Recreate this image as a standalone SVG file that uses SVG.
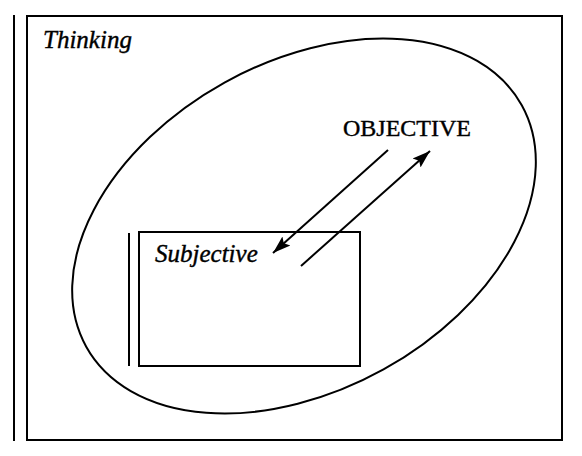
<svg xmlns="http://www.w3.org/2000/svg" width="582" height="456" viewBox="0 0 582 456">
  <style>
    .ln { fill: none; stroke: #000; stroke-width: 2; }
    .lbl { font-family: "Liberation Serif", "Times New Roman", serif; fill: #000; stroke: #000; stroke-width: 0.4; }
    .it { font-style: italic; }
  </style>
  <defs>
    <marker id="ah" markerUnits="userSpaceOnUse" markerWidth="20" markerHeight="14" refX="18" refY="7" orient="auto">
      <path d="M0,1 L18,7 L0,13 L3.5,7 Z" fill="#000"/>
    </marker>
  </defs>
  <rect width="582" height="456" fill="#fff"/>
  <g id="thinking">
    <line class="ln" x1="14" y1="15" x2="14" y2="441"/>
    <rect class="ln" x="27" y="16" width="535" height="424"/>
    <text class="lbl it" x="43" y="48" font-size="25">Thinking</text>
  </g>
  <g id="objective">
    <ellipse class="ln" cx="304" cy="226" rx="249" ry="164" transform="rotate(-29 304 226)"/>
    <text class="lbl" x="343" y="136" font-size="24">OBJECTIVE</text>
  </g>
  <g id="subjective">
    <line class="ln" x1="129" y1="233" x2="129" y2="366"/>
    <rect class="ln" x="139" y="232" width="221" height="134"/>
    <text class="lbl it" x="155" y="262" font-size="25">Subjective</text>
  </g>
  <g id="connectors">
    <line class="ln" x1="388" y1="150" x2="273" y2="253" marker-end="url(#ah)"/>
    <line class="ln" x1="301" y1="266" x2="430" y2="151" marker-end="url(#ah)"/>
  </g>
</svg>
